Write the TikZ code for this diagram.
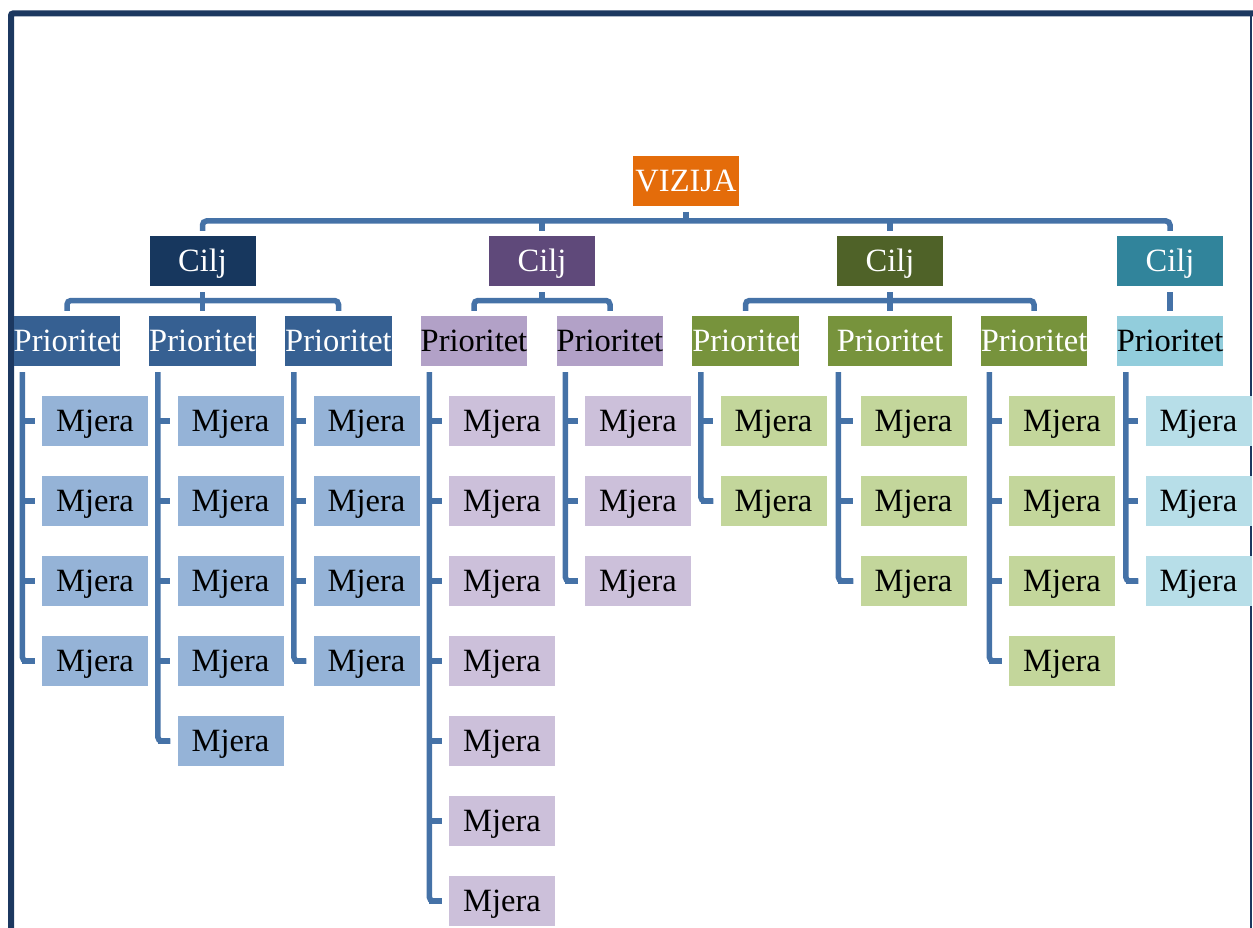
\documentclass[tikz,border=0pt]{standalone}
\usepackage{fontspec}
\setmainfont{Liberation Serif}
\definecolor{framec}{RGB}{28,56,96}
\definecolor{connc}{RGB}{69,114,167}
\definecolor{vizc}{HTML}{E46C0A}
\definecolor{cA}{HTML}{17375E}
\definecolor{cB}{HTML}{5F497A}
\definecolor{cC}{HTML}{4F6228}
\definecolor{cD}{HTML}{31849B}
\definecolor{pA}{HTML}{366092}
\definecolor{pB}{HTML}{B2A1C7}
\definecolor{pC}{HTML}{77933C}
\definecolor{pD}{HTML}{92CDDC}
\definecolor{mA}{HTML}{95B3D7}
\definecolor{mB}{HTML}{CCC0DA}
\definecolor{mC}{HTML}{C3D69B}
\definecolor{mD}{HTML}{B7DEE8}
\begin{document}
\begin{tikzpicture}[x=1pt,y=-1pt,
  box/.style={inner sep=0pt, minimum height=50pt, minimum width=106pt,
    text height=21pt, text depth=1pt, font=\fontsize{32.5}{38}\selectfont},
  link/.style={draw=connc, line width=5.5pt, rounded corners=4pt}]
\useasboundingbox (0,0) rectangle (1253,928);
\clip (0,0) rectangle (1253,928);
\draw[framec, line width=6pt, rounded corners=2pt] (11,960) -- (11,13.5) -- (1262,13.5);
\draw[framec, line width=1.5pt] (1251,13.5) -- (1251,960);

% top
\node[box, fill=vizc, text=white] (viz) at (686,181.5) {VIZIJA};
\node[box, fill=cA, text=white] (c1) at (202.5,261) {Cilj};
\node[box, fill=cB, text=white] (c2) at (542,261) {Cilj};
\node[box, fill=cC, text=white] (c3) at (890,261) {Cilj};
\node[box, fill=cD, text=white] (c4) at (1170,261) {Cilj};

% priorities
\node[box, fill=pA, text=white] (p1) at (67,341) {Prioritet};
\node[box, fill=pA, text=white] (p2) at (202.5,341) {Prioritet};
\node[box, fill=pA, text=white] (p3) at (338.5,341) {Prioritet};
\node[box, fill=pB, text=black] (p4) at (474,341) {Prioritet};
\node[box, fill=pB, text=black] (p5) at (610,341) {Prioritet};
\node[box, fill=pC, text=white] (p6) at (745.5,341) {Prioritet};
\node[box, fill=pC, text=white, minimum width=124pt] (p7) at (890,341) {Prioritet};
\node[box, fill=pC, text=white] (p8) at (1034,341) {Prioritet};
\node[box, fill=pD, text=black] (p9) at (1170,341) {Prioritet};

% top bus
\coordinate (vb) at (686,221);
\draw[link] ([yshift=5pt]c1.north) -- (c1.north |- vb) -- (c4.north |- vb) -- ([yshift=5pt]c4.north);
\draw[link] ([yshift=-5pt]viz.south) -- (viz.south |- vb);
\draw[link] ([yshift=5pt]c2.north) -- (c2.north |- vb);
\draw[link] ([yshift=5pt]c3.north) -- (c3.north |- vb);

% second level buses
\coordinate (pb) at (0,300.5);
\draw[link] ([yshift=5pt]p1.north) -- (p1.north |- pb) -- (p3.north |- pb) -- ([yshift=5pt]p3.north);
\draw[link] ([yshift=-6pt]c1.south) -- (c1.south |- pb);
\draw[link] ([yshift=5pt]p2.north) -- (p2.north |- pb);
\draw[link] ([yshift=5pt]p4.north) -- (p4.north |- pb) -- (p5.north |- pb) -- ([yshift=5pt]p5.north);
\draw[link] ([yshift=-6pt]c2.south) -- (c2.south |- pb);
\draw[link] ([yshift=5pt]p6.north) -- (p6.north |- pb) -- (p8.north |- pb) -- ([yshift=5pt]p8.north);
\draw[link] ([yshift=-6pt]c3.south) -- (c3.south |- pb);
\draw[link] ([yshift=5pt]p7.north) -- (p7.north |- pb);
\draw[link] ([yshift=-6pt]c4.south) -- ([yshift=5pt]p9.north);

% measures
\foreach \g/\mx/\n/\col/\off in {1/95/4/mA/19.5, 2/230.5/5/mA/19.5, 3/366.5/4/mA/19.5,
    4/502/7/mB/19.5, 5/638/3/mB/19.5, 6/773.5/2/mC/19.5, 7/913.5/3/mC/22,
    8/1062/4/mC/19.5, 9/1198.5/3/mD/19.5} {
  \foreach \k in {1,...,\n} {
    \node[box, fill=\col, text=black] (m\g-\k) at (\mx,{421+80*(\k-1)}) {Mjera};
  }
  \coordinate (tx\g) at ([xshift=-\off pt]m\g-1.west);
  \coordinate (ty\g) at ([yshift=-6pt]p\g.south);
  \draw[link] (tx\g |- ty\g) |- ([xshift=-7pt]m\g-\n.west);
  \foreach \k in {1,...,\n} {
    \draw[link] (tx\g |- m\g-\k.west) -- ([xshift=-7pt]m\g-\k.west);
  }
}
\end{tikzpicture}
\end{document}
